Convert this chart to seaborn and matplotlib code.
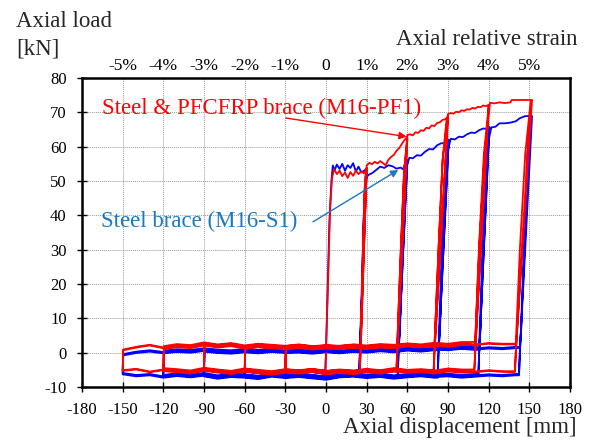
import numpy as np
import matplotlib
matplotlib.use("Agg")
import matplotlib.pyplot as plt
import seaborn as sns

# displacement amplitudes (mm), two cycles at each
amplitude = [30, 60, 90, 120, 150]

# ---- M16-PF1 (steel & PFCFRP) ----
# first-cycle tension path at each amplitude (x: mm, y: kN)
pf1_load_x = [
    [1.5, 3, 4.5, 6, 8, 10, 12, 14, 16, 18, 20, 22, 24, 26, 28, 30],
    [27, 28.5, 30, 32, 34, 36, 38, 40, 42, 44, 46, 48, 50, 52, 54, 56, 58, 60],
    [55, 57.5, 60, 62, 64, 66, 68, 70, 72, 74, 76, 78, 80, 82, 84, 86, 88, 90],
    [83, 86, 90, 92, 94, 96, 98, 100, 102, 104, 106, 108, 110, 112, 114, 116, 118, 120],
    [113, 117, 121, 124, 128, 132, 136, 137, 144, 152],
]
pf1_load_y = [
    [20, 42, 51, 53.5, 52, 53, 51.4, 52.5, 50.9, 52.6, 51.5, 53.0, 52, 52.8, 52.2, 53.5],
    [25, 48, 54.5, 55.3, 54.9, 55.6, 55.1, 55.8, 55.2, 54.6, 56.2, 57.0, 57.6, 58.8, 59.6, 60.8, 62.0, 62.8],
    [28, 52, 63.4, 63.6, 63.3, 64.2, 64.0, 64.8, 64.6, 65.5, 65.3, 66.2, 66.0, 66.9, 67.1, 67.8, 68.0, 68.8],
    [30, 56, 69.5, 69.8, 69.6, 70.2, 70.0, 70.6, 70.4, 70.9, 70.8, 71.3, 71.1, 71.6, 71.5, 72.0, 71.8, 72.2],
    [30, 58, 72.8, 72.6, 72.9, 72.7, 72.9, 73.6, 73.6, 73.6],
]
# second-cycle reloading
pf1_reload_x = [[27, 28.5, 30], [55, 57.5, 60], [83, 86, 89, 90], [113, 116.5, 120], [143, 147, 151]]
pf1_reload_y = [[25, 47, 53.8], [28, 52, 62.3], [30, 56, 68.2, 68.6], [32, 58, 71.8], [30, 58, 73.2]]
# displacement where the load drops to zero after unloading
pf1_slack = [25.5, 52.5, 80, 110, 140]

# ---- M16-S1 (steel) ----
s1_load_x = [
    [1, 2.5, 4, 5, 6.5, 8, 10, 12, 14, 16, 18, 20, 22, 24, 26, 28, 30],
    [26.5, 28, 29.5, 31, 34, 37, 40, 43, 46, 49, 52, 55, 57, 58.5, 60],
    [56, 58, 60, 61.5, 64, 67, 70, 73, 76, 79, 82, 85, 88, 90.5],
    [85, 87.5, 90, 92, 95, 98, 101, 104, 107, 110, 113, 116, 118, 120.5],
    [115, 117.5, 120, 122, 125, 128, 132, 136, 140, 143, 147, 152],
]
s1_load_y = [
    [15, 38, 50, 54.5, 53.2, 54.8, 53.5, 55, 53, 54.6, 53.8, 55.2, 52.8, 54.2, 52.5, 53, 53.5],
    [20, 42, 50.5, 51.7, 52.3, 53.2, 54.2, 53.8, 54.6, 54.3, 53.6, 53.9, 53.4, 55.5, 56.2],
    [25, 45, 55, 56.8, 56.6, 57.5, 57.4, 58.5, 59.3, 59.2, 60.4, 61.0, 61.0, 62.0],
    [25, 48, 59, 62.3, 62.1, 62.9, 62.8, 63.6, 64.1, 64.0, 64.8, 65.3, 65.2, 65.8],
    [25, 50, 62, 65.6, 65.8, 66.8, 66.8, 67.0, 67.4, 68.3, 68.9, 68.9],
]
s1_reload_x = [[26, 27.5, 29, 30], [54.5, 56.5, 58.5, 60], [84, 86, 88.5, 90.5],
               [114, 116, 118.5, 120.5], [144, 146, 148.5, 151]]
s1_reload_y = [[8, 35, 51, 53.8], [6, 30, 50, 55.5], [6, 30, 53, 61.5],
               [7, 32, 56, 65.5], [7, 32, 58, 68.5]]
s1_slack = [25, 53.5, 83, 113, 143]

# load on the compression run (leftwards) and the return run (rightwards)
band_x = [-150, -140, -130, -120, -110, -100, -90, -80, -70, -60, -50, -40, -30, -20, -10, 0,
          10, 20, 30, 40, 50, 60, 70, 80, 90, 100, 110, 120, 130, 140, 150]
pf1_comp_y = [-5.2, -4.8, -5.6, -5.0, -5.3, -5.7, -4.9, -5.4, -5.8, -5.1, -5.5, -5.9, -5.3, -5.6, -5.2, -5.8,
              -5.4, -5.7, -5.2, -5.6, -5.0, -5.5, -5.3, -5.7, -5.1, -5.4, -5.6, -5.2, -5.5, -5.3, -5.0]
pf1_ret_y = [0.8, 1.6, 2.2, 1.4, 2.0, 1.7, 2.5, 1.9, 2.3, 1.6, 2.1, 1.8, 1.5, 1.9, 1.4, 1.7,
             1.5, 1.9, 1.6, 2.0, 1.8, 2.2, 1.9, 2.4, 2.1, 2.6, 2.3, 2.7, 2.5, 2.8, 2.4]
s1_comp_y = [-6.0, -6.6, -6.3, -7.0, -6.5, -6.9, -6.4, -7.1, -6.6, -6.8, -7.2, -6.5, -6.9, -6.6, -7.0, -7.4,
             -6.7, -6.5, -6.9, -6.6, -7.1, -6.7, -6.4, -6.8, -6.6, -7.0, -6.7, -6.4, -6.6, -6.3, -6.0]
s1_ret_y = [-0.5, 0.2, 0.6, 0.1, 0.5, 0.3, 0.8, 0.4, 0.2, 0.6, 0.3, 0.7, 0.4, 0.5, 0.2, 0.6,
            0.3, 0.7, 0.5, 0.9, 0.6, 1.1, 0.8, 1.2, 1.0, 1.4, 1.1, 1.5, 1.3, 1.6, 1.4]
# cycle-to-cycle scatter of the low-load branches
pf1_shift = [0.0, 0.4, -0.3, 0.2, -0.5, 0.3, -0.2, 0.5, -0.4, 0.1, -0.1]
s1_shift = [0.0, -0.3, 0.4, -0.2, 0.3, -0.5, 0.2, -0.1, 0.5, -0.3, 0.1]

strain_labels = ['-5%', '-4%', '-3%', '-2%', '-1%', '0', '1%', '2%', '3%', '4%', '5%']
strain_pos = [-150, -120, -90, -60, -30, 0, 30, 60, 90, 120, 150]


def slack_loop(x0, amp, comp_y, ret_y, s):
    # unload to zero at x0, run back to -amp in compression, come back on the upper branch
    px, py = [x0], [0.0]
    left = [(bx, by) for bx, by in zip(band_x, comp_y) if -amp <= bx < x0 - 0.5][::-1]
    px.append(x0 - 0.6); py.append(left[0][1] + s)
    for bx, by in left:
        px.append(bx); py.append(by + s)
    right = [(bx, by) for bx, by in zip(band_x, ret_y) if -amp <= bx < x0 - 0.5]
    px.append(-amp + 0.4); py.append(right[0][1] + s)
    for bx, by in right[1:]:
        px.append(bx); py.append(by + s)
    px.append(x0); py.append(right[-1][1] + s)
    return px, py


def build_path(load_x, load_y, reload_x, reload_y, slack, comp_y, ret_y, shift):
    xs, ys = slack_loop(0, amplitude[0], comp_y, ret_y, shift[0])
    k = 1
    for i, amp in enumerate(amplitude):
        for c in range(2):
            if c == 0:
                xs += load_x[i]; ys += load_y[i]
            else:
                xs += reload_x[i]; ys += reload_y[i]
            px, py = slack_loop(slack[i], amp, comp_y, ret_y, shift[k])
            xs += px; ys += py
            k += 1
    return xs, ys


s1_x, s1_y = build_path(s1_load_x, s1_load_y, s1_reload_x, s1_reload_y, s1_slack,
                        s1_comp_y, s1_ret_y, s1_shift)
pf1_x, pf1_y = build_path(pf1_load_x, pf1_load_y, pf1_reload_x, pf1_reload_y, pf1_slack,
                          pf1_comp_y, pf1_ret_y, pf1_shift)

sns.set_theme(style="white")
plt.rcParams['font.family'] = ['Liberation Serif', 'DejaVu Serif']
plt.rcParams['axes.unicode_minus'] = False

fig = plt.figure(figsize=(5.9, 4.41), dpi=100)
ax = fig.add_axes([82 / 590, 1 - 387 / 441, (570 - 82) / 590, (387 - 78) / 441])

sns.lineplot(x=s1_x, y=s1_y, sort=False, estimator=None, color='#0000FF', lw=1.3, ax=ax)
sns.lineplot(x=pf1_x, y=pf1_y, sort=False, estimator=None, color='#FF0000', lw=1.3, ax=ax)

ax.set_xlim(-180, 180)
ax.set_ylim(-10, 80)
ax.set_xticks(np.arange(-180, 181, 30))
ax.set_yticks(np.arange(-10, 81, 10))
ax.grid(True, color='#999999', linestyle=(0, (1, 1)), linewidth=0.7)
ax.set_axisbelow(True)
for sp in ax.spines.values():
    sp.set_color('black')
    sp.set_linewidth(1.8)
ax.tick_params(axis='both', which='major', bottom=True, left=True, direction='inout',
               length=7, width=1, color='black', labelcolor='black')
ax.tick_params(axis='x', pad=7, labelsize=12)
ax.tick_params(axis='y', pad=7.5, labelsize=12)

top = ax.twiny()
top.set_xlim(ax.get_xlim())
top.set_xticks(strain_pos)
top.set_xticklabels(strain_labels)
top.tick_params(axis='x', top=True, length=0, pad=3, labelsize=12.5, labelcolor='black')
top.grid(False)
for sp in top.spines.values():
    sp.set_visible(False)

ax.annotate('Steel & PFCFRP brace (M16-PF1)', xy=(59.5, 62.9), xytext=(-165, 69.5),
            color='#FF0000', fontsize=16.5, ha='left', va='baseline',
            arrowprops=dict(arrowstyle='-|>', color='#FF0000', lw=1.0,
                            mutation_scale=11, shrinkA=0, shrinkB=0,
                            patchA=None, relpos=(0.575, 0.05)))
ax.annotate('Steel brace (M16-S1)', xy=(53.3, 53.2), xytext=(-166, 36.5),
            color='#1a78c2', fontsize=16.5, ha='left', va='baseline',
            arrowprops=dict(arrowstyle='-|>', color='#1a78c2', lw=1.0,
                            mutation_scale=11, shrinkA=0, shrinkB=0,
                            patchA=None, relpos=(1.08, 0.5)))

fig.text(16 / 590, 1 - 27 / 441, 'Axial load', fontsize=16.5, ha='left', va='baseline')
fig.text(16 / 590, 1 - 55 / 441, '[kN]', fontsize=16.5, ha='left', va='baseline')
fig.text(577 / 590, 1 - 45 / 441, 'Axial relative strain', fontsize=16.5, ha='right', va='baseline')
fig.text(577 / 590, 1 - 433 / 441, 'Axial displacement [mm]', fontsize=16.5, ha='right', va='baseline')

fig.savefig('out.png', dpi=100)
